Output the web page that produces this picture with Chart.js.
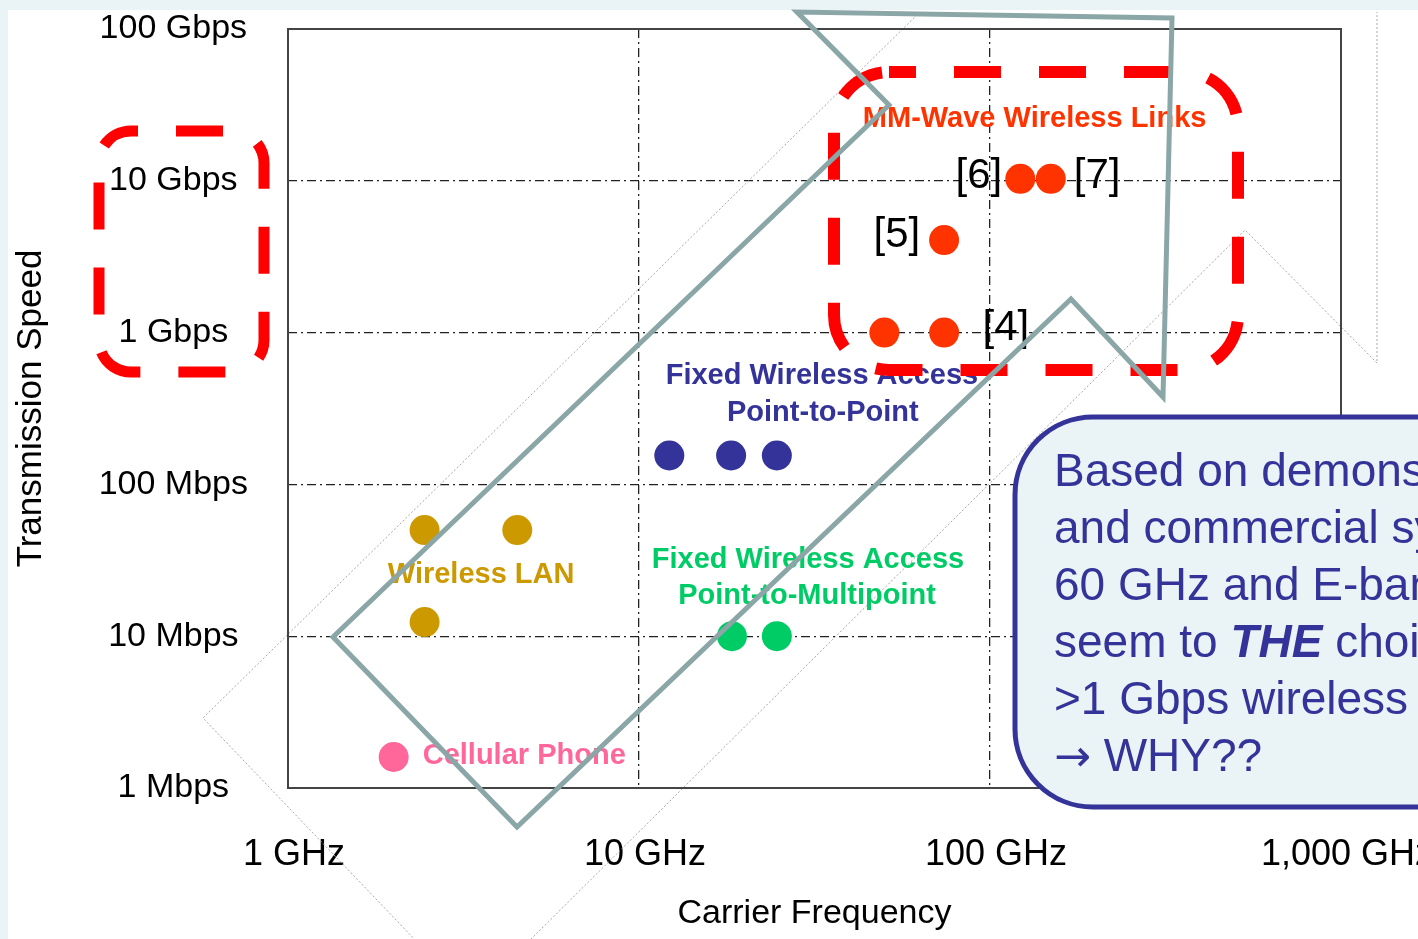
<!DOCTYPE html>
<html>
<head>
<meta charset="utf-8">
<script src="https://cdn.jsdelivr.net/npm/chart.js@4.4.0/dist/chart.umd.min.js"></script>
<style>
  html, body { margin: 0; padding: 0; background: #eaf3f5; }
  canvas { display: block; }
</style>
</head>
<body>
<canvas id="chart" width="1418" height="939"></canvas>
<script>
const xTickValues = [1, 10, 100, 1000];
const xTickLabels = ['1 GHz', '10 GHz', '100 GHz', '1,000 GHz'];
const yTickValues = [1, 10, 100, 1000, 10000, 100000];
const yTickLabels = ['1 Mbps', '10 Mbps', '100 Mbps', '1 Gbps', '10 Gbps', '100 Gbps'];

// carrier frequency in GHz, speed in Mbps
const cellularFreq = [2.0];
const cellularSpeed = [1.6];
const wlanFreq = [2.45, 4.5, 2.45];
const wlanSpeed = [50, 50, 12.4];
const p2pFreq = [12.2, 18.3, 24.7];
const p2pSpeed = [155, 155, 155];
const p2mpFreq = [18.4, 24.7];
const p2mpSpeed = [10, 10];
const mmwFreq = [122, 149, 74, 50, 74];
const mmwSpeed = [10300, 10300, 4070, 1000, 1000];

const calloutLines = [
  'Based on demonstrations',
  'and commercial systems,',
  '60 GHz and E-band',
  ['seem to ', 'THE', ' choice for'],
  '>1 Gbps wireless links',
  ['\u2192', ' WHY??']
];

const FONT = "'Liberation Sans', Arial, sans-serif";
Chart.defaults.font.family = FONT;

const pts = (xs, ys) => xs.map((x, i) => ({ x: x, y: ys[i] }));

// text notes, anchored in data units
const notes = [
  { text: 'MM-Wave Wireless Links', x: 134, y: 25500, color: '#ff3300', font: 'bold 29px ' + FONT },
  { text: '[6]', x: 93, y: 10700, color: '#000', font: '42px ' + FONT },
  { text: '[7]', x: 202, y: 10700, color: '#000', font: '42px ' + FONT },
  { text: '[5]', x: 54.3, y: 4400, color: '#000', font: '42px ' + FONT },
  { text: '[4]', x: 111, y: 1070, color: '#000', font: '42px ' + FONT },
  { text: 'Fixed Wireless Access', x: 33.2, y: 515, color: '#333399', font: 'bold 29px ' + FONT },
  { text: 'Point-to-Point', x: 33.4, y: 295, color: '#333399', font: 'bold 29px ' + FONT },
  { text: 'Wireless LAN', x: 3.55, y: 25.2, color: '#cc9900', font: 'bold 29px ' + FONT },
  { text: 'Fixed Wireless Access', x: 30.3, y: 32, color: '#00cc66', font: 'bold 29px ' + FONT },
  { text: 'Point-to-Multipoint', x: 30.1, y: 18.3, color: '#00cc66', font: 'bold 29px ' + FONT },
  { text: 'Cellular Phone', x: 2.42, y: 1.63, color: '#ff6699', font: 'bold 29px ' + FONT, align: 'left' }
];

function roundPath(ctx, x, y, w, h, r) {
  ctx.beginPath();
  ctx.moveTo(x + r, y);
  ctx.arcTo(x + w, y, x + w, y + h, r);
  ctx.arcTo(x + w, y + h, x, y + h, r);
  ctx.arcTo(x, y + h, x, y, r);
  ctx.arcTo(x, y, x + w, y, r);
  ctx.closePath();
}

function polyline(ctx, p, close) {
  ctx.beginPath();
  ctx.moveTo(p[0][0], p[0][1]);
  for (let i = 1; i < p.length; i++) ctx.lineTo(p[i][0], p[i][1]);
  if (close) ctx.closePath();
  ctx.stroke();
}

const overlay = {
  id: 'overlay',
  beforeDraw(chart) {
    const ctx = chart.ctx;
    ctx.save();
    ctx.fillStyle = '#eaf3f5';
    ctx.fillRect(0, 0, chart.width, chart.height);
    ctx.fillStyle = '#ffffff';
    ctx.fillRect(8, 10, chart.width - 8, chart.height - 10);
    ctx.restore();
  },
  beforeDatasetsDraw(chart) {
    const { ctx, chartArea: a } = chart;
    ctx.save();
    // faint outline behind the arrow
    ctx.strokeStyle = '#a8a8a8';
    ctx.lineWidth = 1;
    ctx.setLineDash([2, 2]);
    polyline(ctx, [[920, 12], [203, 718], [420, 945]]);
    polyline(ctx, [[525, 945], [1245, 230], [1377, 363], [1377, 12]]);
    ctx.setLineDash([]);
    ctx.strokeStyle = '#444';
    ctx.lineWidth = 2;
    ctx.strokeRect(a.left, a.top, a.right - a.left, a.bottom - a.top);
    ctx.restore();
  },
  afterDatasetsDraw(chart) {
    const { ctx, scales: { x, y } } = chart;
    ctx.save();
    ctx.textBaseline = 'middle';
    notes.forEach(n => {
      ctx.font = n.font;
      ctx.fillStyle = n.color;
      ctx.textAlign = n.align || 'center';
      ctx.fillText(n.text, x.getPixelForValue(n.x), y.getPixelForValue(n.y));
    });

    // red dashed boxes
    ctx.strokeStyle = '#ff0000';
    ctx.setLineDash([47, 38]);
    ctx.lineWidth = 11;
    ctx.lineDashOffset = 40;
    roundPath(ctx, 99, 131, 165, 241, 32);
    ctx.stroke();
    ctx.lineWidth = 12;
    ctx.lineDashOffset = 20;
    roundPath(ctx, 834, 72, 404, 298, 55);
    ctx.stroke();
    ctx.setLineDash([]);

    // big arrow
    ctx.strokeStyle = '#8ba6a6';
    ctx.lineWidth = 5;
    ctx.lineJoin = 'miter';
    polyline(ctx, [[333, 637], [889, 105], [797, 12], [1172, 18], [1163, 397], [1071, 299], [517, 827]], true);

    // callout
    roundPath(ctx, 1015, 417, 480, 390, 78);
    ctx.fillStyle = '#eaf3f5';
    ctx.fill();
    ctx.strokeStyle = '#333399';
    ctx.lineWidth = 5;
    ctx.stroke();
    ctx.fillStyle = '#333399';
    ctx.textAlign = 'left';
    ctx.textBaseline = 'alphabetic';
    calloutLines.forEach((line, i) => {
      const by = 486 + i * 57;
      const parts = Array.isArray(line) ? line : [line];
      let cx = 1054;
      parts.forEach(part => {
        if (part === 'THE') ctx.font = 'italic bold 46px ' + FONT;
        else if (part === '\u2192') ctx.font = "44px 'DejaVu Sans', " + FONT;
        else ctx.font = '46px ' + FONT;
        ctx.fillText(part, cx, by);
        cx += ctx.measureText(part).width;
      });
    });
    ctx.restore();
  }
};

const dot = (data, color) => ({
  data: data,
  backgroundColor: color,
  borderWidth: 0,
  pointRadius: 15,
  pointHoverRadius: 15
});

new Chart(document.getElementById('chart'), {
  type: 'scatter',
  data: {
    datasets: [
      dot(pts(cellularFreq, cellularSpeed), '#ff6699'),
      dot(pts(wlanFreq, wlanSpeed), '#cc9900'),
      dot(pts(p2pFreq, p2pSpeed), '#333399'),
      dot(pts(p2mpFreq, p2mpSpeed), '#00cc66'),
      dot(pts(mmwFreq, mmwSpeed), '#ff3300')
    ]
  },
  options: {
    responsive: false,
    animation: false,
    events: [],
    layout: { padding: { top: 29, right: 77, bottom: 0, left: 0 } },
    plugins: { legend: { display: false }, tooltip: { enabled: false } },
    scales: {
      x: {
        type: 'logarithmic',
        min: 1,
        max: 1000,
        afterBuildTicks: s => { s.ticks = xTickValues.map(v => ({ value: v })); },
        afterFit: s => { s.height = 151; s.paddingLeft = 0; s.paddingRight = 0; },
        grid: { color: '#222', lineWidth: 1.3, drawTicks: false },
        border: { display: false, dash: [9, 4, 2, 4] },
        ticks: {
          autoSkip: false,
          maxRotation: 0,
          padding: 45,
          labelOffset: 6,
          color: '#000',
          font: { size: 36 },
          callback: (v, i) => xTickLabels[i]
        },
        title: { display: true, text: 'Carrier Frequency', color: '#000', font: { size: 34 }, padding: { top: 0, bottom: 5 } }
      },
      y: {
        type: 'logarithmic',
        min: 1,
        max: 100000,
        afterBuildTicks: s => { s.ticks = yTickValues.map(v => ({ value: v })); },
        afterFit: s => { s.width = 288; s.paddingTop = 0; s.paddingBottom = 0; },
        grid: { color: '#222', lineWidth: 1.3, drawTicks: false },
        border: { display: false, dash: [9, 4, 2, 4] },
        ticks: {
          autoSkip: false,
          crossAlign: 'center',
          padding: 40,
          color: '#000',
          font: { size: 34 },
          callback: (v, i) => yTickLabels[i]
        },
        title: { display: true, text: 'Transmission Speed', color: '#000', font: { size: 35 }, padding: { top: 10, bottom: 0 } }
      }
    }
  },
  plugins: [overlay]
});
</script>
</body>
</html>
